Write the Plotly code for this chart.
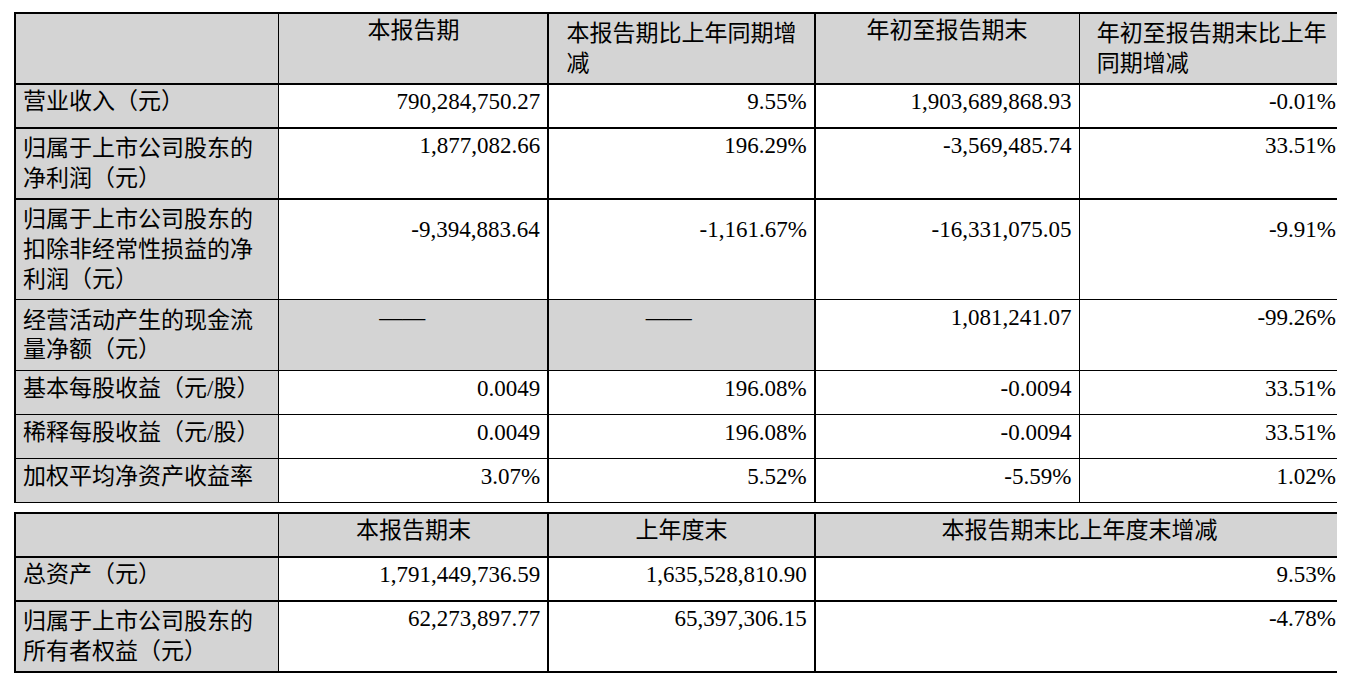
import plotly.graph_objects as go

# 上半部分
header_top = ["", "本报告期", "本报告期比上年同期增<br>减", "年初至报告期末", "年初至报告期末比上年<br>同期增减"]
items_top = ["营业收入（元）", "归属于上市公司股东的<br>净利润（元）",
             "归属于上市公司股东的<br>扣除非经常性损益的净<br>利润（元）",
             "经营活动产生的现金流<br>量净额（元）", "基本每股收益（元/股）",
             "稀释每股收益（元/股）", "加权平均净资产收益率"]
pad = "\u00a0" * 20
cur_period = ["790,284,750.27", "1,877,082.66", "<br>-9,394,883.64", "——" + pad, "0.0049", "0.0049", "3.07%"]
cur_change = ["9.55%", "196.29%", "<br>-1,161.67%", "——" + pad, "196.08%", "196.08%", "5.52%"]
ytd = ["1,903,689,868.93", "-3,569,485.74", "<br>-16,331,075.05", "1,081,241.07", "-0.0094", "-0.0094", "-5.59%"]
ytd_change = ["-0.01%", "33.51%", "<br>-9.91%", "-99.26%", "33.51%", "33.51%", "1.02%"]

# 下半部分
header_bot = ["", "本报告期末", "上年度末", "本报告期末比上年度末增减"]
items_bot = ["总资产（元）", "归属于上市公司股东的<br>所有者权益（元）"]
end_period = ["1,791,449,736.59", "62,273,897.77"]
last_year_end = ["1,635,528,810.90", "65,397,306.15"]
end_change = ["9.53%", "-4.78%"]

GRAY = "#d4d4d4"
W = 1345
H = 699
FONT = dict(family="Liberation Serif, Noto Sans CJK SC", size=23, color="black")
LINE = dict(color="black", width=1.5)
ROW = 44
top_px = 5
mid_px = 505
bot_px = 694
x0, x1 = 7 / W, 1336 / W

white = "white"
fig = go.Figure()
fig.add_trace(go.Table(
    domain=dict(x=[x0, x1], y=[1 - mid_px / H, 1 - top_px / H]),
    columnwidth=[264, 270, 267, 265, 265],
    header=dict(values=header_top, fill_color=GRAY, line=LINE, font=FONT,
                align="center", height=ROW),
    cells=dict(values=[items_top, cur_period, cur_change, ytd, ytd_change],
               fill_color=[[GRAY] * 7,
                           [white, white, white, GRAY, white, white, white],
                           [white, white, white, GRAY, white, white, white],
                           [white] * 7, [white] * 7],
               line=LINE, font=FONT, align=["left", "right", "right", "right", "right"],
               height=ROW),
))
fig.add_trace(go.Table(
    domain=dict(x=[x0, x1], y=[1 - bot_px / H, 1 - mid_px / H]),
    columnwidth=[264, 270, 267, 530],
    header=dict(values=header_bot, fill_color=GRAY, line=LINE, font=FONT,
                align="center", height=ROW),
    cells=dict(values=[items_bot, end_period, last_year_end, end_change],
               fill_color=[[GRAY] * 2, [white] * 2, [white] * 2, [white] * 2],
               line=LINE, font=FONT, align=["left", "right", "right", "right"],
               height=ROW),
))
fig.update_layout(width=W, height=H, margin=dict(l=0, r=0, t=0, b=0),
                  paper_bgcolor="white")
fig.write_html("out.html")
